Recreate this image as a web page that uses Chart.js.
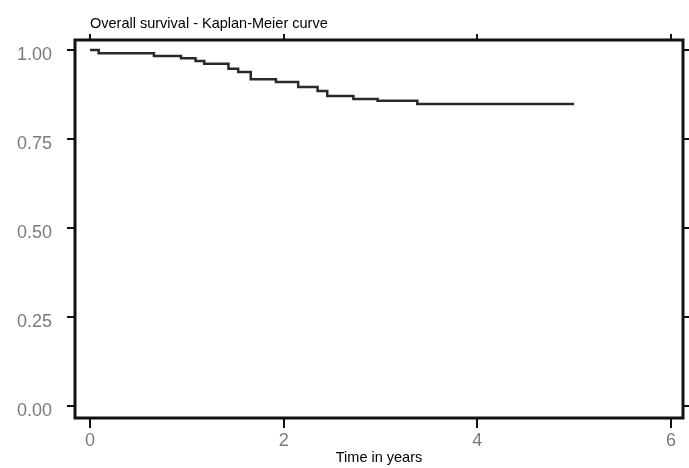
<!DOCTYPE html>
<html>
<head>
<meta charset="utf-8">
<title>Overall survival - Kaplan-Meier curve</title>
<script src="https://cdn.jsdelivr.net/npm/chart.js@4/dist/chart.umd.min.js"></script>
<style>
    body { margin: 0; background: #fff; }
    #km { display: block; }
</style>
</head>
<body>
<canvas id="km" width="689" height="468"></canvas>
<script>
// Kaplan-Meier steps (time in years, survival after each drop)
const times = [0, 0.09, 0.66, 0.94, 1.09, 1.18, 1.43, 1.53, 1.66, 1.92, 2.15, 2.35, 2.45, 2.72, 2.97, 3.38, 5.0];
const survival = [1.0, 0.991, 0.983, 0.977, 0.969, 0.961, 0.947, 0.938, 0.918, 0.910, 0.896, 0.885, 0.871, 0.862, 0.857, 0.848, 0.848];
const xTicks = [0, 2, 4, 6];
const yTicks = [0, 0.25, 0.5, 0.75, 1];

const chartTitle = 'Overall survival - Kaplan-Meier curve';
const xTitle = 'Time in years';

const X_MIN = -0.155, X_MAX = 6.124;
const Y_MIN = -0.034, Y_MAX = 1.028;
const FONT = '"Liberation Sans", Arial, sans-serif';

// frame round the plot area plus the small title in the top left
const framePlugin = {
    id: 'frame',
    afterDatasetsDraw(chart) {
        const { ctx, chartArea: a } = chart;
        ctx.save();
        ctx.strokeStyle = '#111';
        ctx.lineWidth = 3;
        ctx.strokeRect(a.left, a.top, a.right - a.left, a.bottom - a.top);
        ctx.restore();
    },
    afterDraw(chart) {
        const { ctx } = chart;
        ctx.save();
        ctx.fillStyle = '#000';
        ctx.font = '14.5px ' + FONT;
        ctx.textBaseline = 'alphabetic';
        ctx.fillText(chartTitle, 90, 28);
        ctx.restore();
    }
};

function fixedTicks(values) {
    return scale => { scale.ticks = values.map(v => ({ value: v })); };
}

function tickGrid(len) {
    return {
        drawOnChartArea: false,
        drawTicks: true,
        tickLength: len,
        color: '#111',
        lineWidth: 2
    };
}

const ctx = document.getElementById('km').getContext('2d');
new Chart(ctx, {
    type: 'line',
    data: {
        datasets: [{
            label: 'Overall survival',
            data: times.map((t, i) => ({ x: t, y: survival[i] })),
            stepped: true,
            borderColor: '#2a2a2a',
            borderWidth: 2.5,
            pointRadius: 0,
            fill: false,
            xAxisID: 'x',
            yAxisID: 'y'
        }]
    },
    options: {
        responsive: false,
        animation: false,
        layout: { padding: 0 },
        plugins: {
            legend: { display: false },
            title: { display: false },
            tooltip: { enabled: false }
        },
        scales: {
            x: {
                type: 'linear',
                position: 'bottom',
                min: X_MIN,
                max: X_MAX,
                afterBuildTicks: fixedTicks(xTicks),
                afterFit: s => { s.height = 50; },
                grid: tickGrid(10),
                border: { display: false },
                ticks: {
                    padding: 2,
                    color: '#7a7a7a',
                    font: { family: FONT, size: 18 },
                    maxRotation: 0,
                    callback: v => String(v)
                },
                title: {
                    display: true,
                    text: xTitle,
                    color: '#000',
                    font: { family: FONT, size: 14.5 },
                    padding: { top: 0, bottom: 1 }
                }
            },
            x2: {
                type: 'linear',
                position: 'top',
                min: X_MIN,
                max: X_MAX,
                afterBuildTicks: fixedTicks(xTicks),
                afterFit: s => { s.height = 40; },
                grid: tickGrid(6),
                border: { display: false },
                ticks: { display: false }
            },
            y: {
                type: 'linear',
                position: 'left',
                min: Y_MIN,
                max: Y_MAX,
                afterBuildTicks: fixedTicks(yTicks),
                afterFit: s => { s.width = 75; },
                grid: tickGrid(8),
                border: { display: false },
                ticks: {
                    padding: 15,
                    labelOffset: 5,
                    color: '#7a7a7a',
                    font: { family: FONT, size: 18 },
                    callback: v => v.toFixed(2)
                }
            },
            y2: {
                type: 'linear',
                position: 'right',
                min: Y_MIN,
                max: Y_MAX,
                afterBuildTicks: fixedTicks(yTicks),
                afterFit: s => { s.width = 6; },
                grid: tickGrid(6),
                border: { display: false },
                ticks: { display: false }
            }
        }
    },
    plugins: [framePlugin]
});
</script>
</body>
</html>
